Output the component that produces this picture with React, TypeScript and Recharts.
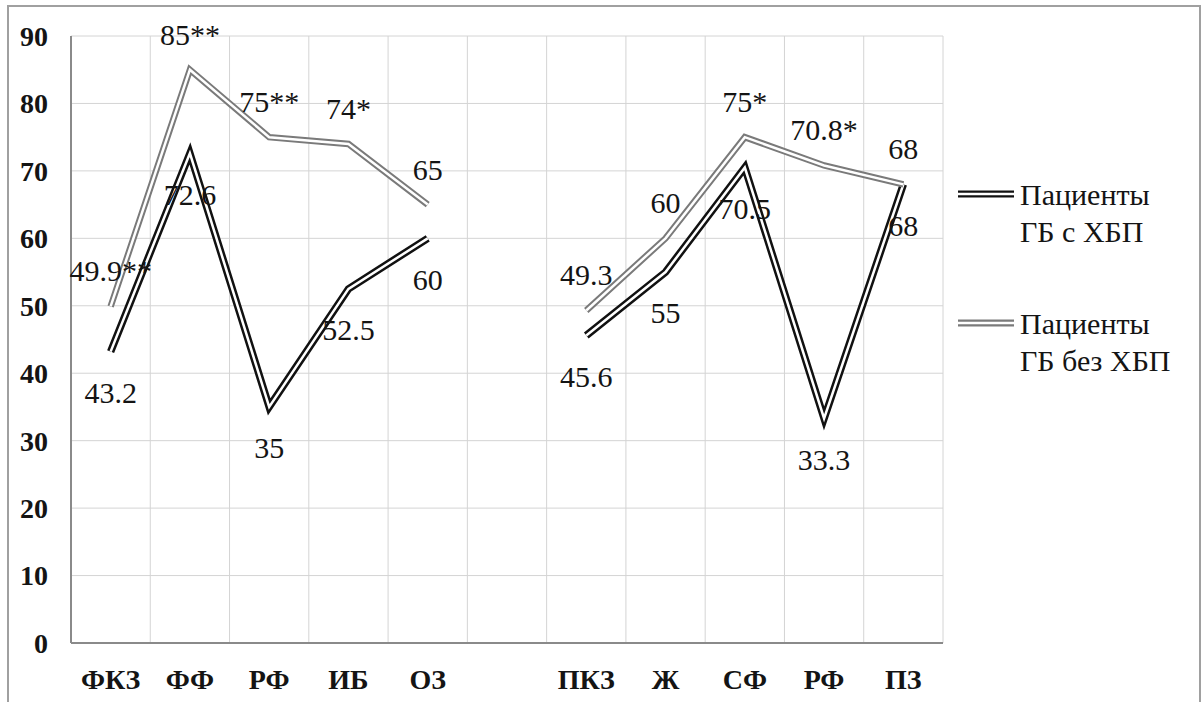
import { CartesianGrid, LabelList, Legend, Line, LineChart, XAxis, YAxis } from "recharts";

const categories = ["ФКЗ", "ФФ", "РФ", "ИБ", "ОЗ", "", "ПКЗ", "Ж", "СФ", "РФ", "ПЗ"];
const withCkd = [43.2, 72.6, 35, 52.5, 60, null, 45.6, 55, 70.5, 33.3, 68];
const withoutCkd = [49.9, 85, 75, 74, 65, null, 49.3, 60, 75, 70.8, 68];
const withCkdLabels = ["43.2", "72.6", "35", "52.5", "60", null, "45.6", "55", "70.5", "33.3", "68"];
const withoutCkdLabels = ["49.9**", "85**", "75**", "74*", "65", null, "49.3", "60", "75*", "70.8*", "68"];
const yTicks = [0, 10, 20, 30, 40, 50, 60, 70, 80, 90];
const seriesNames = ["Пациенты ГБ с ХБП", "Пациенты ГБ без ХБП"];

const data = categories.map((name, i) => ({
  idx: i,
  name,
  withCkd: withCkd[i],
  withoutCkd: withoutCkd[i],
  withCkdLabel: withCkdLabels[i],
  withoutCkdLabel: withoutCkdLabels[i],
}));

const FONT = "Liberation Serif, Tinos, Times New Roman, DejaVu Serif, Noto Serif, serif";
const TEXT = "#141414";
const BLACK = "#111111";
const GRAY = "#7a7a7a";

const PLOT_W = 872;
const HALF_BAND = PLOT_W / categories.length / 2;

function renderLegend(props: any) {
  const items = (props.payload || [])
    .filter((p: any) => seriesNames.includes(String(p.value)))
    .sort((a: any, b: any) => seriesNames.indexOf(a.value) - seriesNames.indexOf(b.value));
  return (
    <div style={{ fontFamily: FONT, color: TEXT }}>
      {items.map((item: any, i: number) => {
        const [first, ...rest] = String(item.value).split(" ");
        return (
          <div key={i} style={{ display: "flex", alignItems: "flex-start", marginBottom: 55 }}>
            <svg width={56} height={37} style={{ flex: "none" }}>
              <line x1={0} x2={56} y1={18} y2={18} stroke={item.color} strokeWidth={7} />
              <line x1={0} x2={56} y1={18} y2={18} stroke="#ffffff" strokeWidth={2.5} />
            </svg>
            <div style={{ marginLeft: 6, fontSize: 30, lineHeight: "37px", whiteSpace: "nowrap" }}>
              {first}
              <br />
              {rest.join(" ")}
            </div>
          </div>
        );
      })}
    </div>
  );
}

export default function App() {
  const labelStyle = { fontFamily: FONT, fontSize: 30, fill: TEXT };
  const tickStyle = { fontFamily: FONT, fontSize: 28, fontWeight: 700, fill: TEXT };

  return (
    <div
      style={{
        position: "fixed",
        left: 0,
        top: 0,
        width: 1202,
        height: 702,
        background: "#fff",
        overflow: "hidden",
        fontFamily: FONT,
      }}
    >
      <div
        style={{
          position: "absolute",
          left: 7,
          top: 5,
          width: 1190,
          height: 720,
          border: "2px solid #a0a0a0",
        }}
      />
      <LineChart
        width={1202}
        height={702}
        data={data}
        margin={{ top: 36, right: 259, bottom: 0, left: 0 }}
        style={{ position: "absolute", left: 0, top: 0, fontFamily: FONT }}
      >
        <CartesianGrid
          stroke="#d4d4d4"
          strokeWidth={1}
          verticalCoordinatesGenerator={({ offset }: any) =>
            Array.from({ length: categories.length + 1 }, (_, i) => offset.left + (i * offset.width) / categories.length)
          }
        />
        <XAxis
          dataKey="idx"
          type="category"
          interval={0}
          height={59}
          padding={{ left: HALF_BAND, right: HALF_BAND }}
          tickFormatter={(v: any) => categories[Number(v)] ?? ""}
          tickLine={false}
          tickSize={0}
          tickMargin={26}
          stroke="#8a8a8a"
          strokeWidth={2}
          tick={tickStyle}
          fontFamily={FONT}
        />
        <YAxis
          domain={[0, 90]}
          ticks={yTicks}
          width={71}
          tickLine={false}
          tickSize={0}
          tickMargin={23}
          stroke="#8a8a8a"
          strokeWidth={2}
          tick={tickStyle}
          fontFamily={FONT}
        />
        <Legend
          layout="horizontal"
          verticalAlign="middle"
          align="center"
          content={renderLegend}
          wrapperStyle={{ left: 958, top: 176, width: 240, height: 260 }}
        />

        {/* label carriers first so the lines draw over the numbers */}
        <Line dataKey="withCkd" stroke="none" dot={false} activeDot={false} legendType="none" isAnimationActive={false}>
          <LabelList dataKey="withCkdLabel" position="bottom" offset={30} style={labelStyle} fontFamily={FONT} />
        </Line>
        <Line dataKey="withoutCkd" stroke="none" dot={false} activeDot={false} legendType="none" isAnimationActive={false}>
          <LabelList dataKey="withoutCkdLabel" position="top" offset={25} style={labelStyle} fontFamily={FONT} />
        </Line>

        <Line
          dataKey="withCkd"
          name={seriesNames[0]}
          stroke={BLACK}
          strokeWidth={7.5}
          strokeLinejoin="miter"
          strokeLinecap="butt"
          dot={false}
          activeDot={false}
          isAnimationActive={false}
        />
        <Line
          dataKey="withCkd"
          stroke="#ffffff"
          strokeWidth={2.5}
          strokeLinejoin="miter"
          strokeLinecap="butt"
          dot={false}
          activeDot={false}
          legendType="none"
          isAnimationActive={false}
        />
        <Line
          dataKey="withoutCkd"
          name={seriesNames[1]}
          stroke={GRAY}
          strokeWidth={6.5}
          strokeLinejoin="miter"
          strokeLinecap="butt"
          dot={false}
          activeDot={false}
          isAnimationActive={false}
        />
        <Line
          dataKey="withoutCkd"
          stroke="#ffffff"
          strokeWidth={2.5}
          strokeLinejoin="miter"
          strokeLinecap="butt"
          dot={false}
          activeDot={false}
          legendType="none"
          isAnimationActive={false}
        />
      </LineChart>
    </div>
  );
}
